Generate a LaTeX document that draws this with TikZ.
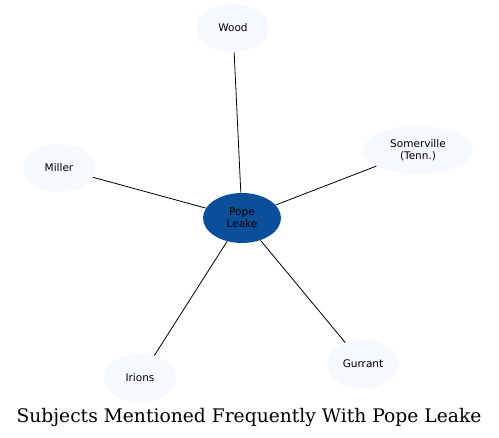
\documentclass[tikz,border=0pt]{standalone}
\usepackage{fontspec}
\newfontfamily\labelfont{DejaVu Sans}
\newfontfamily\titlefont{DejaVu Serif}
\usetikzlibrary{shapes.geometric}
\definecolor{leafblue}{HTML}{F5F8FE}
\definecolor{popeblue}{HTML}{0B4F9B}
\tikzset{
  subject/.style={ellipse, fill=leafblue, inner sep=0pt, minimum width=72pt, minimum height=48pt, align=center, font=\labelfont\fontsize{10.5}{11.7}\selectfont},
  focus/.style={subject, fill=popeblue, minimum width=78pt, minimum height=50pt}
}

\begin{document}
\begin{tikzpicture}[x=1pt, y=-1pt, line width=0.8pt]
\useasboundingbox (0,0) rectangle (499,438);
\node[focus] (leake) at (242,218) {Pope\\Leake};
\node[subject] (wood) at (233,28) {Wood};
\node[subject, minimum width=110pt] (somerville) at (418,150) {Somerville\\(Tenn.)};
\node[subject] (miller) at (59,168) {Miller};
\node[subject] (irions) at (140,378) {Irions};
\node[subject] (gurrant) at (363,364) {Gurrant};
\path (249,417) node (title) {\titlefont\fontsize{18.7}{22}\selectfont Subjects Mentioned Frequently With Pope Leake};
% connectors
\draw (leake) -- (wood);
\draw (leake) -- (somerville);
\draw (leake) -- (miller);
\draw (leake) -- (irions);
\draw (leake) -- (gurrant);
\end{tikzpicture}
\end{document}
